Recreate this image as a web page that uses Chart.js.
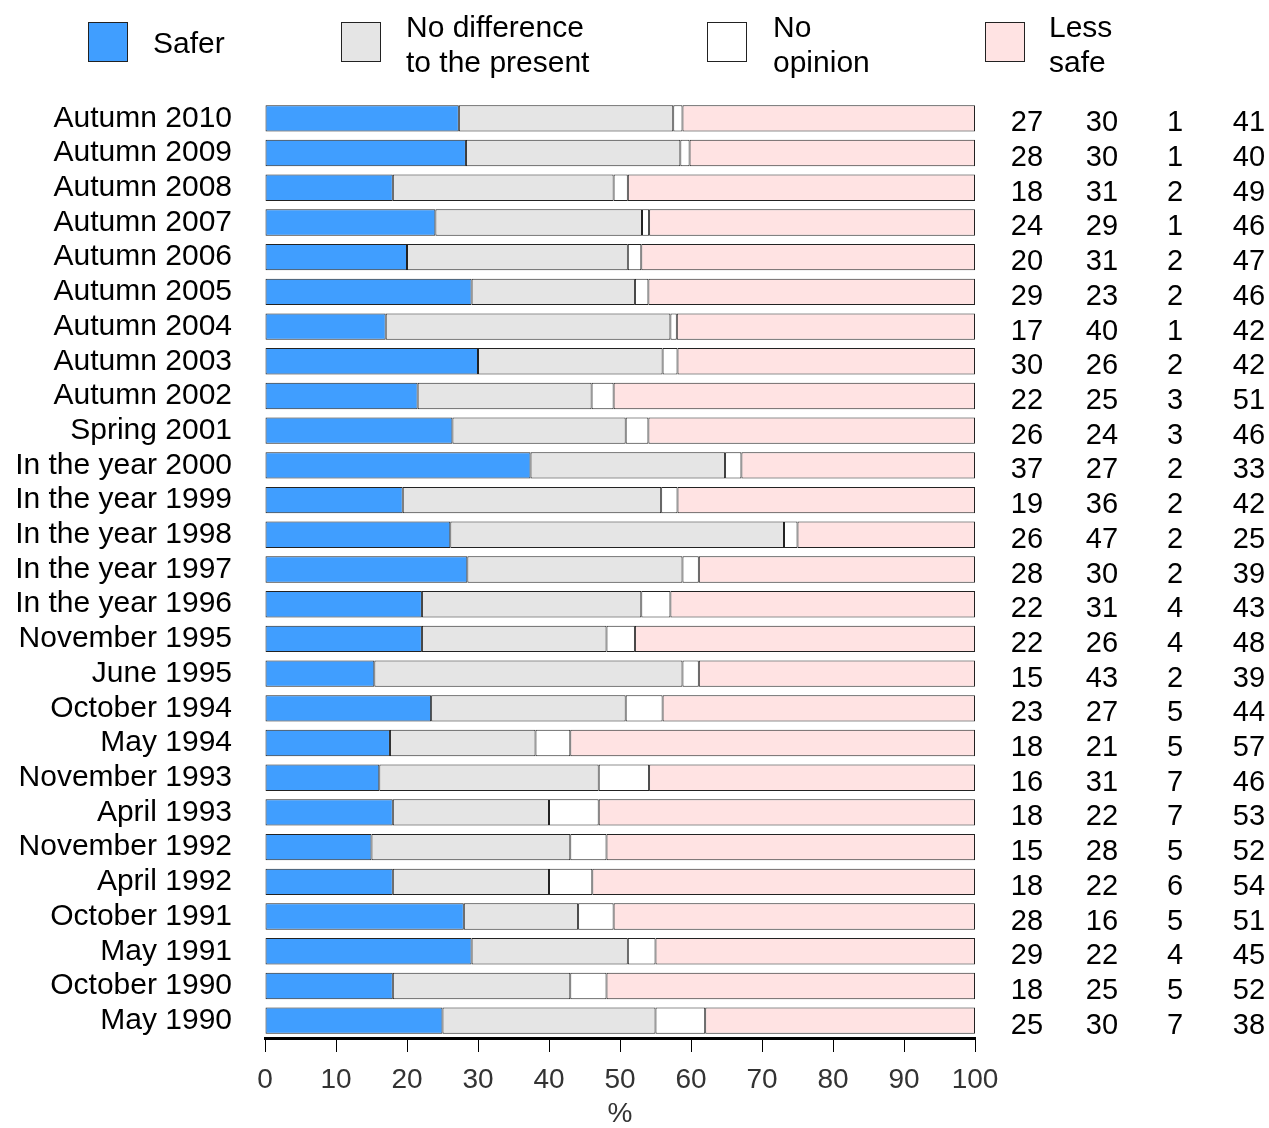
<!DOCTYPE html>
<html>
<head>
<meta charset="utf-8">
<script src="https://cdn.jsdelivr.net/npm/chart.js@4.4.0/dist/chart.umd.min.js"></script>
<style>
  body { margin: 0; background: #fff; }
  #wrap { position: relative; width: 1269px; height: 1128px; font-family: "Liberation Sans", Arial, sans-serif; color: #000; }
  #myChart { position: absolute; left: 0; top: 0; }
  .box { position: absolute; width: 38px; height: 38px; border: 1px solid #222; }
  .lab { position: absolute; font-size: 30px; line-height: 35px; }
</style>
</head>
<body>
<div id="wrap">
  <canvas id="myChart" width="1269" height="1128"></canvas>
  <div class="box" style="left:88px;top:22px;background:#409eff"></div>
  <div class="lab" style="left:153px;top:25px">Safer</div>
  <div class="box" style="left:341px;top:22px;background:#e5e5e5"></div>
  <div class="lab" style="left:406px;top:9px">No difference<br>to the present</div>
  <div class="box" style="left:707px;top:22px;background:#fff"></div>
  <div class="lab" style="left:773px;top:9px">No<br>opinion</div>
  <div class="box" style="left:985px;top:22px;background:#ffe3e3"></div>
  <div class="lab" style="left:1049px;top:9px">Less<br>safe</div>
</div>
<script>
const categories = ['Autumn 2010', 'Autumn 2009', 'Autumn 2008', 'Autumn 2007', 'Autumn 2006', 'Autumn 2005',
    'Autumn 2004', 'Autumn 2003', 'Autumn 2002', 'Spring 2001', 'In the year 2000', 'In the year 1999',
    'In the year 1998', 'In the year 1997', 'In the year 1996', 'November 1995', 'June 1995', 'October 1994',
    'May 1994', 'November 1993', 'April 1993', 'November 1992', 'April 1992', 'October 1991', 'May 1991',
    'October 1990', 'May 1990'];

// bar lengths
const safer = [27.3, 28.3, 18.0, 24.0, 20.0, 29.1, 17.0, 30.0, 21.5, 26.4, 37.4, 19.4, 26.1, 28.5, 22.1, 22.1, 15.4, 23.4, 17.6, 16.1, 18.0, 15.0, 18.0, 28.0, 29.1, 18.0, 25.0];
const noDifference = [30.2, 30.2, 31.1, 29.1, 31.1, 23.0, 40.1, 26.0, 24.5, 24.4, 27.4, 36.4, 47.0, 30.3, 30.9, 26.0, 43.4, 27.4, 20.5, 30.9, 22.0, 28.0, 22.0, 16.1, 22.0, 25.0, 30.0];
const noOpinion = [1.3, 1.3, 2.0, 1.0, 1.9, 1.9, 0.9, 2.1, 3.1, 3.2, 2.3, 2.3, 1.9, 2.3, 4.1, 4.0, 2.3, 5.2, 4.9, 7.1, 7.0, 5.1, 6.1, 5.0, 3.9, 5.1, 7.0];
const lessSafe = [41.2, 40.2, 48.9, 45.9, 47.0, 46.0, 42.0, 41.9, 50.9, 46.0, 32.9, 41.9, 25.0, 38.9, 42.9, 47.9, 38.9, 44.0, 57.0, 45.9, 53.0, 51.9, 53.9, 50.9, 45.0, 51.9, 38.0];

// printed numbers on the right
const saferText = [27, 28, 18, 24, 20, 29, 17, 30, 22, 26, 37, 19, 26, 28, 22, 22, 15, 23, 18, 16, 18, 15, 18, 28, 29, 18, 25];
const noDiffText = [30, 30, 31, 29, 31, 23, 40, 26, 25, 24, 27, 36, 47, 30, 31, 26, 43, 27, 21, 31, 22, 28, 22, 16, 22, 25, 30];
const noOpText = [1, 1, 2, 1, 2, 2, 1, 2, 3, 3, 2, 2, 2, 2, 4, 4, 2, 5, 5, 7, 7, 5, 6, 5, 4, 5, 7];
const lessText = [41, 40, 49, 46, 47, 46, 42, 42, 51, 46, 33, 42, 25, 39, 43, 48, 39, 44, 57, 46, 53, 52, 54, 51, 45, 52, 38];

const xTicks = [0, 10, 20, 30, 40, 50, 60, 70, 80, 90, 100];

const FONT = "'Liberation Sans', Arial, sans-serif";

const rightNumbers = {
    id: 'rightNumbers',
    afterDatasetsDraw(chart) {
        const c = chart.ctx;
        const y = chart.scales.y;
        const cols = [saferText, noDiffText, noOpText, lessText];
        const xs = [1027, 1102, 1175, 1249];
        c.save();
        c.font = '29px ' + FONT;
        c.fillStyle = '#000';
        c.textAlign = 'center';
        c.textBaseline = 'middle';
        for (let i = 0; i < categories.length; i++) {
            const py = y.getPixelForValue(i) + 5;
            for (let k = 0; k < cols.length; k++) {
                c.fillText(String(cols[k][i]), xs[k], py);
            }
        }
        c.restore();
    }
};

const mkSet = (label, data, color) => ({
    label: label,
    data: data,
    backgroundColor: color,
    borderColor: '#222',
    borderWidth: 1,
    borderSkipped: false,
    barPercentage: 0.76,
    categoryPercentage: 1
});

const ctx = document.getElementById('myChart').getContext('2d');
const myChart = new Chart(ctx, {
    type: 'bar',
    data: {
        labels: categories,
        datasets: [
            mkSet('Safer', safer, '#409eff'),
            mkSet('No difference to the present', noDifference, '#e5e5e5'),
            mkSet('No opinion', noOpinion, '#ffffff'),
            mkSet('Less safe', lessSafe, '#ffe3e3')
        ]
    },
    options: {
        indexAxis: 'y',
        responsive: false,
        animation: false,
        layout: { padding: { top: 101, right: 294, left: 0, bottom: 0 } },
        plugins: {
            legend: { display: false },
            tooltip: { enabled: false }
        },
        scales: {
            x: {
                stacked: true,
                min: 0,
                max: 100,
                afterBuildTicks: (scale) => { scale.ticks = xTicks.map(v => ({ value: v })); },
                afterFit: (scale) => { scale.height = 90; },
                border: { display: true, color: '#000', width: 3 },
                grid: { drawOnChartArea: false, drawTicks: true, tickLength: 14, color: '#000', lineWidth: 1 },
                ticks: { color: '#333', font: { family: FONT, size: 28 }, padding: 11, maxRotation: 0 },
                title: { display: true, text: '%', color: '#333', font: { family: FONT, size: 28, lineHeight: 0.95 }, padding: { top: 9, bottom: 0 } }
            },
            y: {
                stacked: true,
                afterFit: (scale) => { scale.width = 265; },
                border: { display: false },
                grid: { display: false, drawTicks: false },
                ticks: { color: '#000', font: { family: FONT, size: 30 }, padding: 33, autoSkip: false }
            }
        }
    },
    plugins: [rightNumbers]
});
</script>
</body>
</html>
